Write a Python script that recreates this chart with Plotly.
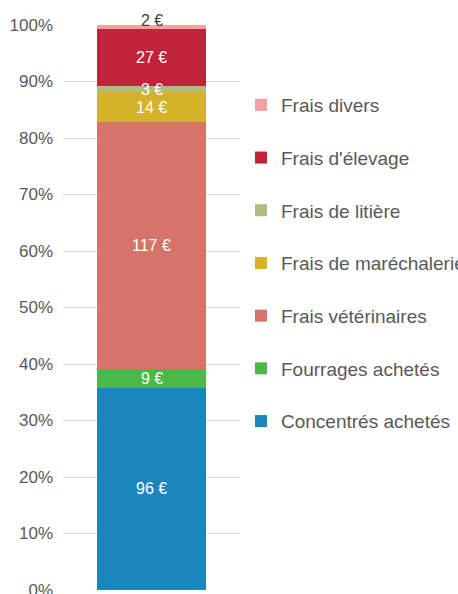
import plotly.graph_objects as go

categories = ["Coûts"]
series_names = ["Concentrés achetés", "Fourrages achetés", "Frais vétérinaires",
                "Frais de maréchalerie", "Frais de litière", "Frais d'élevage", "Frais divers"]
series_values = [96, 9, 117, 14, 3, 27, 2]
series_colors = ["#1a86bc", "#4cb84a", "#d6736a", "#d4b22a", "#b5b97e", "#c0243a", "#f2a0a0"]
label_colors = ["white", "white", "white", "white", "white", "white", "#404040"]
tick_vals = [0, 10, 20, 30, 40, 50, 60, 70, 80, 90, 100]
tick_text = [f"{v}%" for v in tick_vals]

total = sum(series_values)
pcts = [v / total * 100 for v in series_values]

fig = go.Figure()
for i, (name, pct, col) in enumerate(zip(series_names, pcts, series_colors)):
    fig.add_trace(go.Bar(
        x=categories, y=[pct], name=name, marker=dict(color=col, line=dict(width=0)),
        legendgroup=f"g{i}", legendrank=100 - i * 10, hoverinfo="skip", width=0.62,
    ))

cum = 0
for v, pct, lc in zip(series_values, pcts, label_colors):
    mid = cum + pct / 2
    cum += pct
    fig.add_annotation(x=categories[0], y=mid, text=f"{v} €", showarrow=False,
                       font=dict(color=lc, size=16, family="Liberation Sans"),
                       yshift=7 if lc != "white" else 0)

W, H = 458, 594
fig.update_layout(
    barmode="stack",
    width=W, height=H,
    margin=dict(l=63, r=218, t=25, b=4, autoexpand=False),
    plot_bgcolor="white", paper_bgcolor="white",
    font=dict(family="Liberation Sans", size=17, color="#595959"),
    showlegend=True,
    legend=dict(traceorder="grouped", tracegroupgap=25,
                xref="container", yref="container",
                x=241 / W, xanchor="left", y=1 - 86 / H, yanchor="top",
                maxheight=500,
                font=dict(size=19, color="#595959"), itemwidth=30),
)
fig.update_xaxes(showticklabels=False, showline=False, showgrid=False, zeroline=False)
fig.update_yaxes(range=[0, 100], tickvals=tick_vals, ticktext=tick_text, showgrid=True,
                 gridcolor="#d9d9d9", gridwidth=1, zeroline=False, showline=False,
                 ticks="", ticklabelstandoff=9, automargin=False, ticklabeloverflow="allow")

fig.write_html("out.html", config={"displayModeBar": False},
               post_script="document.body.style.margin='0';document.body.style.overflow='hidden';")
